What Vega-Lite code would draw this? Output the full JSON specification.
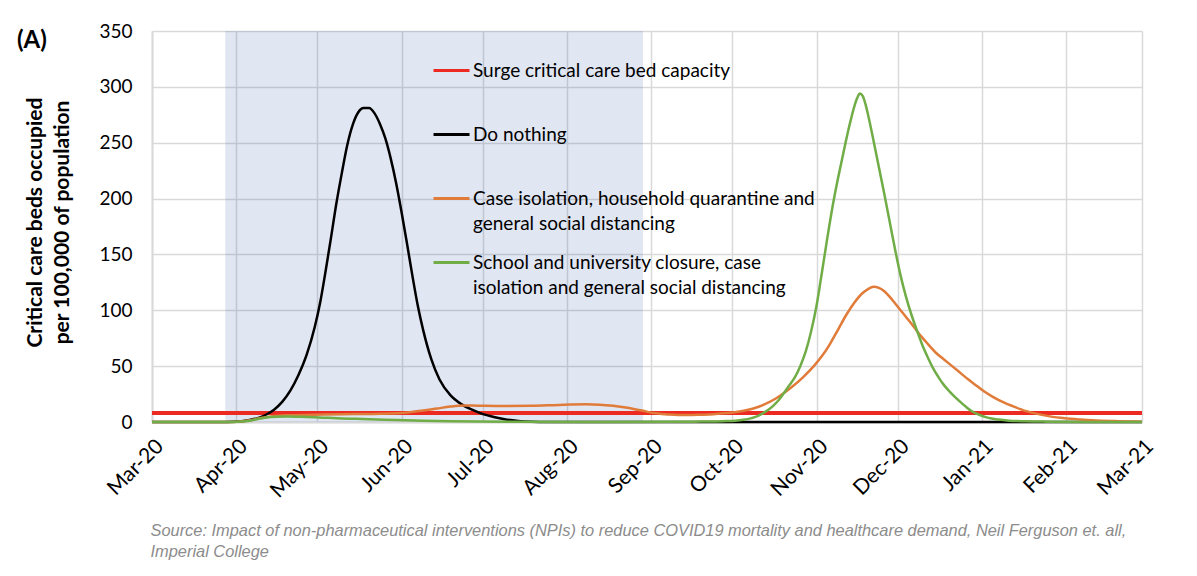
{
  "$schema": "https://vega.github.io/schema/vega-lite/v6.json",
  "width": 990,
  "height": 391,
  "autosize": {"type": "none"},
  "padding": {"left": 152, "top": 31, "right": 55, "bottom": 154},
  "background": "white",
  "title": {"text": "(A)", "anchor": "start", "frame": "group", "font": "Lato", "fontSize": 24, "fontWeight": "bold", "color": "#000000", "dx": -135, "offset": 0, "baseline": "middle", "dy": 43},
  "config": {
    "view": {"stroke": null},
    "axis": {"labelFont": "Lato", "labelColor": "#000000", "titleFont": "Lato", "titleColor": "#000000", "gridColor": "#d9d9d9", "gridWidth": 1.5, "domainColor": "#d9d9d9", "domainWidth": 2, "ticks": false}
  },
  "datasets": {
    "surge": [
      {"date": "2020/03/01", "value": 8},
      {"date": "2021/03/01", "value": 8}
    ],
    "nothing": [
      {"date": "2020/03/01", "value": 0},
      {"date": "2020/03/26", "value": 0},
      {"date": "2020/03/31", "value": 0.2},
      {"date": "2020/04/03", "value": 0.6},
      {"date": "2020/04/06", "value": 1.8},
      {"date": "2020/04/09", "value": 3.5},
      {"date": "2020/04/12", "value": 6.5},
      {"date": "2020/04/15", "value": 11},
      {"date": "2020/04/18", "value": 18},
      {"date": "2020/04/21", "value": 28},
      {"date": "2020/04/24", "value": 42},
      {"date": "2020/04/27", "value": 60},
      {"date": "2020/04/30", "value": 85},
      {"date": "2020/05/02", "value": 107},
      {"date": "2020/05/04", "value": 135},
      {"date": "2020/05/06", "value": 165},
      {"date": "2020/05/08", "value": 196},
      {"date": "2020/05/10", "value": 223},
      {"date": "2020/05/12", "value": 248},
      {"date": "2020/05/14", "value": 266},
      {"date": "2020/05/16", "value": 277},
      {"date": "2020/05/18", "value": 281},
      {"date": "2020/05/20", "value": 281},
      {"date": "2020/05/22", "value": 276.5},
      {"date": "2020/05/24", "value": 267},
      {"date": "2020/05/26", "value": 254},
      {"date": "2020/05/28", "value": 236},
      {"date": "2020/05/30", "value": 214},
      {"date": "2020/06/01", "value": 188},
      {"date": "2020/06/03", "value": 160},
      {"date": "2020/06/05", "value": 131},
      {"date": "2020/06/07", "value": 104},
      {"date": "2020/06/09", "value": 82},
      {"date": "2020/06/12", "value": 56},
      {"date": "2020/06/15", "value": 38},
      {"date": "2020/06/19", "value": 24},
      {"date": "2020/06/23", "value": 16},
      {"date": "2020/06/27", "value": 11},
      {"date": "2020/07/01", "value": 7},
      {"date": "2020/07/05", "value": 4.5},
      {"date": "2020/07/09", "value": 2.5},
      {"date": "2020/07/14", "value": 1},
      {"date": "2020/07/19", "value": 0.3},
      {"date": "2020/07/24", "value": 0},
      {"date": "2021/03/01", "value": 0}
    ],
    "case": [
      {"date": "2020/03/01", "value": 0},
      {"date": "2020/03/31", "value": 0},
      {"date": "2020/04/03", "value": 0.4},
      {"date": "2020/04/06", "value": 1.5},
      {"date": "2020/04/10", "value": 3.5},
      {"date": "2020/04/14", "value": 5},
      {"date": "2020/04/20", "value": 6},
      {"date": "2020/04/30", "value": 6.5},
      {"date": "2020/05/10", "value": 7},
      {"date": "2020/05/20", "value": 7.2},
      {"date": "2020/05/30", "value": 7.8},
      {"date": "2020/06/04", "value": 8.8},
      {"date": "2020/06/09", "value": 10.2},
      {"date": "2020/06/14", "value": 12},
      {"date": "2020/06/19", "value": 13.8},
      {"date": "2020/06/24", "value": 14.8},
      {"date": "2020/06/29", "value": 14.6},
      {"date": "2020/07/09", "value": 14.3},
      {"date": "2020/07/19", "value": 14.5},
      {"date": "2020/07/29", "value": 15.3},
      {"date": "2020/08/08", "value": 15.8},
      {"date": "2020/08/13", "value": 15.5},
      {"date": "2020/08/18", "value": 14.5},
      {"date": "2020/08/22", "value": 13.2},
      {"date": "2020/08/26", "value": 11.5},
      {"date": "2020/08/29", "value": 10},
      {"date": "2020/09/02", "value": 8},
      {"date": "2020/09/07", "value": 6.8},
      {"date": "2020/09/11", "value": 6.2},
      {"date": "2020/09/15", "value": 6.2},
      {"date": "2020/09/19", "value": 6.5},
      {"date": "2020/09/24", "value": 7},
      {"date": "2020/09/29", "value": 8},
      {"date": "2020/10/03", "value": 9.2},
      {"date": "2020/10/06", "value": 10.5},
      {"date": "2020/10/09", "value": 12.3},
      {"date": "2020/10/13", "value": 16},
      {"date": "2020/10/17", "value": 21},
      {"date": "2020/10/20", "value": 26},
      {"date": "2020/10/23", "value": 31.5},
      {"date": "2020/10/27", "value": 40},
      {"date": "2020/10/31", "value": 50},
      {"date": "2020/11/03", "value": 59},
      {"date": "2020/11/06", "value": 70},
      {"date": "2020/11/09", "value": 83},
      {"date": "2020/11/12", "value": 96},
      {"date": "2020/11/15", "value": 107},
      {"date": "2020/11/18", "value": 115.5},
      {"date": "2020/11/20", "value": 119},
      {"date": "2020/11/22", "value": 121},
      {"date": "2020/11/24", "value": 120},
      {"date": "2020/11/26", "value": 117},
      {"date": "2020/11/28", "value": 112},
      {"date": "2020/11/30", "value": 106},
      {"date": "2020/12/02", "value": 100},
      {"date": "2020/12/04", "value": 94},
      {"date": "2020/12/06", "value": 88},
      {"date": "2020/12/08", "value": 81.5},
      {"date": "2020/12/10", "value": 75.5},
      {"date": "2020/12/12", "value": 70},
      {"date": "2020/12/15", "value": 62},
      {"date": "2020/12/18", "value": 56},
      {"date": "2020/12/21", "value": 50},
      {"date": "2020/12/24", "value": 44},
      {"date": "2020/12/27", "value": 38},
      {"date": "2020/12/30", "value": 32.5},
      {"date": "2021/01/02", "value": 27},
      {"date": "2021/01/05", "value": 22.5},
      {"date": "2021/01/09", "value": 17.5},
      {"date": "2021/01/13", "value": 13.5},
      {"date": "2021/01/17", "value": 10},
      {"date": "2021/01/21", "value": 7.5},
      {"date": "2021/01/25", "value": 5.5},
      {"date": "2021/01/30", "value": 3.8},
      {"date": "2021/02/04", "value": 2.6},
      {"date": "2021/02/09", "value": 1.8},
      {"date": "2021/02/14", "value": 1.2},
      {"date": "2021/02/19", "value": 0.8},
      {"date": "2021/02/24", "value": 0.5},
      {"date": "2021/03/01", "value": 0.3}
    ],
    "school": [
      {"date": "2020/03/01", "value": 0},
      {"date": "2020/03/31", "value": 0},
      {"date": "2020/04/03", "value": 0.4},
      {"date": "2020/04/06", "value": 1.2},
      {"date": "2020/04/09", "value": 2.6},
      {"date": "2020/04/12", "value": 4},
      {"date": "2020/04/16", "value": 4.8},
      {"date": "2020/04/20", "value": 5},
      {"date": "2020/04/25", "value": 4.6},
      {"date": "2020/04/30", "value": 4.2},
      {"date": "2020/05/05", "value": 3.7},
      {"date": "2020/05/10", "value": 3.2},
      {"date": "2020/05/15", "value": 2.8},
      {"date": "2020/05/20", "value": 2.4},
      {"date": "2020/05/30", "value": 1.7},
      {"date": "2020/06/09", "value": 1.1},
      {"date": "2020/06/19", "value": 0.7},
      {"date": "2020/06/29", "value": 0.4},
      {"date": "2020/07/14", "value": 0.2},
      {"date": "2020/08/08", "value": 0.1},
      {"date": "2020/09/07", "value": 0.2},
      {"date": "2020/09/17", "value": 0.3},
      {"date": "2020/09/24", "value": 0.5},
      {"date": "2020/09/29", "value": 0.8},
      {"date": "2020/10/02", "value": 1.2},
      {"date": "2020/10/05", "value": 2},
      {"date": "2020/10/08", "value": 3.5},
      {"date": "2020/10/10", "value": 5},
      {"date": "2020/10/12", "value": 7.5},
      {"date": "2020/10/14", "value": 10.5},
      {"date": "2020/10/16", "value": 14.5},
      {"date": "2020/10/18", "value": 19.5},
      {"date": "2020/10/20", "value": 26},
      {"date": "2020/10/22", "value": 33},
      {"date": "2020/10/24", "value": 40},
      {"date": "2020/10/26", "value": 50},
      {"date": "2020/10/28", "value": 63},
      {"date": "2020/10/30", "value": 81},
      {"date": "2020/11/01", "value": 104},
      {"date": "2020/11/03", "value": 134},
      {"date": "2020/11/05", "value": 165},
      {"date": "2020/11/07", "value": 194},
      {"date": "2020/11/09", "value": 219},
      {"date": "2020/11/11", "value": 242},
      {"date": "2020/11/13", "value": 264},
      {"date": "2020/11/15", "value": 283},
      {"date": "2020/11/16", "value": 290},
      {"date": "2020/11/17", "value": 294},
      {"date": "2020/11/18", "value": 292},
      {"date": "2020/11/19", "value": 285},
      {"date": "2020/11/20", "value": 275},
      {"date": "2020/11/22", "value": 252},
      {"date": "2020/11/24", "value": 228},
      {"date": "2020/11/26", "value": 204},
      {"date": "2020/11/28", "value": 179},
      {"date": "2020/11/30", "value": 154},
      {"date": "2020/12/02", "value": 131},
      {"date": "2020/12/04", "value": 112},
      {"date": "2020/12/06", "value": 96},
      {"date": "2020/12/08", "value": 82},
      {"date": "2020/12/10", "value": 69},
      {"date": "2020/12/12", "value": 58},
      {"date": "2020/12/14", "value": 48},
      {"date": "2020/12/16", "value": 40},
      {"date": "2020/12/18", "value": 33},
      {"date": "2020/12/20", "value": 27.5},
      {"date": "2020/12/22", "value": 22.5},
      {"date": "2020/12/24", "value": 18},
      {"date": "2020/12/26", "value": 13.8},
      {"date": "2020/12/28", "value": 10},
      {"date": "2020/12/31", "value": 6.3},
      {"date": "2021/01/03", "value": 3.9},
      {"date": "2021/01/07", "value": 2.2},
      {"date": "2021/01/11", "value": 1.2},
      {"date": "2021/01/17", "value": 0.6},
      {"date": "2021/01/25", "value": 0.3},
      {"date": "2021/02/09", "value": 0.1},
      {"date": "2021/03/01", "value": 0}
    ],
    "shade": [
      {"start": "2020/03/28", "end": "2020/08/29"}
    ]
  },
  "encoding": {
    "x": {
      "field": "date", "type": "temporal",
      "scale": {"domain": [{"year": 2020, "month": 3, "date": 1}, {"year": 2021, "month": 3, "date": 1}], "nice": false},
      "axis": {
        "format": "%b-%y", "tickCount": {"interval": "month", "step": 1},
        "labelAngle": -45, "labelFontSize": 21, "labelFlush": false, "labelOverlap": false, "labelPadding": 13,
        "title": ["Source: Impact of non-pharmaceutical interventions (NPIs) to reduce COVID19 mortality and healthcare demand, Neil Ferguson et. all,", "Imperial College"],
        "titleFont": "Liberation Sans", "titleFontStyle": "italic", "titleFontWeight": "normal", "titleFontSize": 16.4, "titleColor": "#8c8c8c",
        "titleLineHeight": 21, "titleAnchor": "start", "titleAlign": "left", "titleBaseline": "middle", "titleAngle": 0, "titleX": -2, "titleY": 108
      }
    },
    "y": {
      "field": "value", "type": "quantitative",
      "scale": {"domain": [0, 350], "nice": false},
      "axis": {
        "values": [0, 50, 100, 150, 200, 250, 300, 350],
        "labelFontSize": 19, "labelPadding": 20,
        "title": ["Critical care beds occupied", "per 100,000 of population"],
        "titleFontSize": 21, "titleFontWeight": "bold", "titleLineHeight": 27,
        "titleX": -117, "titleY": 191, "titleAlign": "center", "titleBaseline": "middle", "titleAngle": -90
      }
    }
  },
  "layer": [
    {
      "data": {"name": "shade"},
      "mark": {"type": "rect", "fill": "#3058a8", "opacity": 0.15},
      "encoding": {"x": {"field": "start", "type": "temporal"}, "x2": {"field": "end"}, "y": null}
    },
    {
      "data": {"name": "surge"},
      "mark": {"type": "line", "strokeWidth": 4},
      "encoding": {
        "color": {
          "datum": "Surge critical care bed capacity", "type": "nominal",
          "scale": {
            "domain": ["Surge critical care bed capacity", "Do nothing", "Case isolation, household quarantine and general social distancing", "School and university closure, case isolation and general social distancing"],
            "range": ["#ec2a22", "#000000", "#e07b39", "#70ad47"]
          },
          "legend": {
            "orient": "none", "legendX": 280, "legendY": 20, "title": null, "padding": 0,
            "labelFont": "Lato", "labelFontSize": 19, "labelColor": "#000000", "labelLimit": 600,
            "labelOffset": 2, "rowPadding": 9, "symbolType": "stroke", "symbolSize": 1296, "symbolStrokeWidth": 3,
            "encode": {"labels": {"update": {"lineHeight": {"value": 25}}}},
            "labelExpr": "datum.label == 'Case isolation, household quarantine and general social distancing' ? ['Case isolation, household quarantine and', 'general social distancing'] : datum.label == 'School and university closure, case isolation and general social distancing' ? ['School and university closure, case', 'isolation and general social distancing'] : [datum.label, '']"
          }
        }
      }
    },
    {
      "data": {"name": "nothing"},
      "mark": {"type": "line", "strokeWidth": 2.5, "interpolate": "monotone"},
      "encoding": {"color": {"datum": "Do nothing", "type": "nominal"}}
    },
    {
      "data": {"name": "case"},
      "mark": {"type": "line", "strokeWidth": 2.5, "interpolate": "monotone"},
      "encoding": {"color": {"datum": "Case isolation, household quarantine and general social distancing", "type": "nominal"}}
    },
    {
      "data": {"name": "school"},
      "mark": {"type": "line", "strokeWidth": 2.5, "interpolate": "monotone"},
      "encoding": {"color": {"datum": "School and university closure, case isolation and general social distancing", "type": "nominal"}}
    }
  ]
}
